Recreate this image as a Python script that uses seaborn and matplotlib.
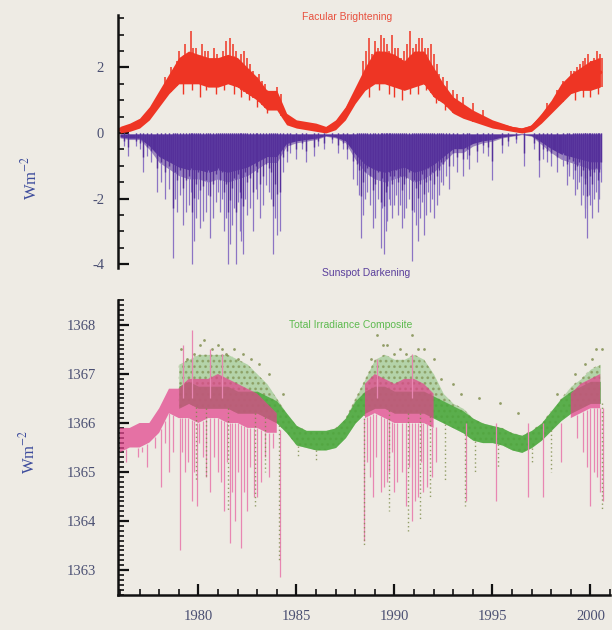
import matplotlib
matplotlib.use("Agg")
import numpy as np
import pandas as pd
import seaborn as sns
import matplotlib.pyplot as plt
from matplotlib.ticker import MultipleLocator

# ---------------------------------------------------------------- data
# half-year sampling grid shared by all banded series
grid_years = [1976.0, 1976.5, 1977.0, 1977.5, 1978.0, 1978.5, 1979.0, 1979.5,
              1980.0, 1980.5, 1981.0, 1981.5, 1982.0, 1982.5, 1983.0, 1983.5,
              1984.0, 1984.5, 1985.0, 1985.5, 1986.0, 1986.5, 1987.0, 1987.5,
              1988.0, 1988.5, 1989.0, 1989.5, 1990.0, 1990.5, 1991.0, 1991.5,
              1992.0, 1992.5, 1993.0, 1993.5, 1994.0, 1994.5, 1995.0, 1995.5,
              1996.0, 1996.5, 1997.0, 1997.5, 1998.0, 1998.5, 1999.0, 1999.5,
              2000.0, 2000.5]

# facular brightening: lower / upper edge of the dense daily band (W m-2)
fac_low = [0.0, 0.05, 0.15, 0.4, 0.8, 1.2, 1.5, 1.5, 1.5, 1.4, 1.4, 1.5, 1.4, 1.2,
           1.0, 0.7, 0.7, 0.25, 0.15, 0.1, 0.05, 0.0, 0.1, 0.4, 0.9, 1.3, 1.5, 1.5,
           1.4, 1.3, 1.4, 1.5, 1.1, 0.9, 0.6, 0.45, 0.35, 0.25, 0.15, 0.1, 0.05,
           0.0, 0.05, 0.3, 0.6, 0.9, 1.2, 1.3, 1.3, 1.4]
fac_high = [0.2, 0.3, 0.45, 0.8, 1.3, 1.8, 2.3, 2.5, 2.4, 2.3, 2.3, 2.4, 2.3, 2.0,
            1.7, 1.3, 1.3, 0.6, 0.4, 0.35, 0.3, 0.2, 0.4, 0.8, 1.4, 2.0, 2.5, 2.5,
            2.4, 2.2, 2.5, 2.5, 2.0, 1.5, 1.1, 0.9, 0.7, 0.55, 0.4, 0.3, 0.2, 0.15,
            0.25, 0.6, 1.0, 1.5, 1.8, 2.0, 2.2, 2.3]

# individual facular maxima
fac_peak_years = [1978.3, 1978.6, 1978.9, 1979.0, 1979.15, 1979.3, 1979.45, 1979.6,
                  1979.75, 1979.9, 1980.05, 1980.2, 1980.35, 1980.5, 1980.65, 1980.8,
                  1980.95, 1981.1, 1981.25, 1981.4, 1981.6, 1981.75, 1981.9, 1982.05,
                  1982.2, 1982.35, 1982.5, 1982.65, 1982.8, 1983.1, 1983.25, 1983.4,
                  1984.0, 1984.2, 1988.4, 1988.55, 1988.7, 1988.85, 1989.0, 1989.15,
                  1989.3, 1989.45, 1989.6, 1989.75, 1989.9, 1990.05, 1990.2, 1990.35,
                  1990.5, 1990.65, 1990.8, 1990.95, 1991.1, 1991.25, 1991.4, 1991.55,
                  1991.7, 1991.85, 1992.0, 1992.15, 1992.3, 1992.5, 1992.7, 1993.0,
                  1993.2, 1993.5, 1994.0, 1994.5, 1997.8, 1998.3, 1998.6, 1999.0,
                  1999.15, 1999.3, 1999.45, 1999.6, 1999.75, 1999.9, 2000.05, 2000.2,
                  2000.35, 2000.5, 2000.6]
fac_peak_values = [1.7, 2.0, 2.2, 2.5, 2.2, 2.7, 2.4, 3.1, 2.6, 2.6, 2.3, 2.7, 2.5,
                   2.5, 2.2, 2.6, 2.4, 2.3, 2.5, 2.8, 2.9, 2.7, 2.5, 2.2, 2.4, 2.5,
                   2.3, 2.1, 1.9, 1.8, 1.6, 1.5, 1.4, 1.2, 2.2, 2.5, 2.9, 2.4, 2.8,
                   2.6, 3.0, 2.9, 2.7, 2.5, 3.0, 2.6, 2.6, 2.3, 2.5, 2.7, 3.1, 2.6,
                   2.7, 2.9, 2.9, 2.6, 2.6, 2.7, 2.4, 2.1, 1.8, 1.7, 1.6, 1.3, 1.2,
                   1.1, 0.9, 0.7, 0.9, 1.3, 1.6, 1.9, 1.9, 2.0, 2.1, 2.2, 2.3, 2.4,
                   2.2, 2.3, 2.5, 2.4, 2.3]

# facular minima reaching below the dense band
fac_dip_years = [1979.2, 1979.7, 1980.1, 1980.4, 1980.9, 1981.3, 1981.8, 1982.2,
                 1982.6, 1983.0, 1983.5, 1988.7, 1989.2, 1989.7, 1990.0, 1990.4,
                 1990.8, 1991.2, 1991.6, 1992.1, 1992.6, 1999.2, 1999.6, 2000.0,
                 2000.4]
fac_dip_values = [1.2, 1.3, 1.1, 1.3, 1.2, 1.3, 1.2, 1.1, 1.0, 0.8, 0.6, 1.1, 1.3,
                  1.2, 1.1, 1.0, 1.2, 1.2, 1.3, 0.9, 0.7, 1.0, 1.1, 1.1, 1.2]

# sunspot darkening: depth of the dense daily band (W m-2)
spot_depth = [-0.15, -0.2, -0.2, -0.5, -0.9, -1.1, -1.3, -1.4, -1.4, -1.5, -1.4,
              -1.5, -1.4, -1.3, -1.1, -0.9, -0.9, -0.4, -0.3, -0.25, -0.2, -0.1,
              -0.15, -0.3, -0.8, -1.2, -1.4, -1.5, -1.4, -1.3, -1.5, -1.4, -1.2,
              -0.9, -0.6, -0.6, -0.4, -0.3, -0.25, -0.15, -0.1, -0.05, -0.1, -0.35,
              -0.6, -0.8, -0.9, -1.0, -1.1, -1.1]

# large sunspot passages
spot_spike_years = [1976.2, 1976.4, 1976.8, 1977.0, 1977.2, 1977.4, 1977.6, 1977.9,
                    1978.1, 1978.3, 1978.5, 1978.7, 1978.8, 1978.9, 1979.05, 1979.2,
                    1979.35, 1979.5, 1979.6, 1979.7, 1979.8, 1979.9, 1980.0, 1980.1,
                    1980.25, 1980.4, 1980.5, 1980.6, 1980.75, 1980.9, 1981.0, 1981.1,
                    1981.2, 1981.3, 1981.4, 1981.5, 1981.6, 1981.7, 1981.8, 1981.9,
                    1982.0, 1982.1, 1982.2, 1982.3, 1982.4, 1982.5, 1982.65, 1982.8,
                    1982.95, 1983.0, 1983.15, 1983.3, 1983.45, 1983.6, 1983.7, 1983.8,
                    1983.9, 1984.0, 1984.15, 1984.3, 1984.5, 1984.7, 1985.0, 1985.3,
                    1985.5, 1985.9, 1986.1, 1986.4, 1986.8, 1987.1, 1987.4, 1987.6,
                    1987.9, 1988.1, 1988.2, 1988.3, 1988.4, 1988.5, 1988.6, 1988.75,
                    1988.9, 1989.0, 1989.15, 1989.3, 1989.35, 1989.45, 1989.55, 1989.6,
                    1989.7, 1989.8, 1989.9, 1990.0, 1990.1, 1990.2, 1990.3, 1990.4,
                    1990.5, 1990.6, 1990.75, 1990.9, 1991.0, 1991.1, 1991.2, 1991.3,
                    1991.4, 1991.5, 1991.6, 1991.7, 1991.8, 1991.9, 1992.0, 1992.15,
                    1992.3, 1992.4, 1992.5, 1992.65, 1992.8, 1993.0, 1993.2, 1993.5,
                    1993.7, 1993.8, 1994.2, 1994.5, 1994.8, 1995.0, 1995.5, 1995.8,
                    1996.2, 1996.6, 1997.1, 1997.4, 1997.6, 1997.8, 1998.0, 1998.3,
                    1998.6, 1998.8, 1998.9, 1999.1, 1999.2, 1999.3, 1999.4, 1999.5,
                    1999.6, 1999.7, 1999.75, 1999.85, 1999.95, 2000.0, 2000.1, 2000.2,
                    2000.3, 2000.4, 2000.45, 2000.55]
spot_spike_values = [-0.4, -0.7, -0.4, -0.5, -1.2, -0.7, -0.9, -1.8, -1.5, -2.0,
                     -1.7, -3.8, -2.0, -2.4, -1.9, -2.8, -2.4, -2.2, -1.8, -4.0,
                     -3.3, -2.6, -2.0, -2.9, -2.7, -2.4, -1.9, -3.2, -2.6, -2.1,
                     -1.8, -2.4, -2.0, -3.0, -2.6, -4.0, -3.4, -2.8, -2.3, -4.0,
                     -2.1, -3.0, -3.3, -3.7, -2.0, -2.5, -2.3, -3.0, -1.7, -2.0,
                     -2.6, -2.2, -1.6, -1.8, -2.0, -3.7, -2.6, -3.1, -3.0, -1.2,
                     -0.9, -0.6, -0.8, -0.5, -0.9, -0.7, -0.4, -0.5, -0.3, -0.6,
                     -0.5, -0.8, -1.4, -1.6, -1.9, -3.2, -2.5, -2.0, -1.8, -2.2,
                     -2.9, -2.6, -2.0, -3.5, -2.3, -3.7, -3.0, -2.7, -2.0, -2.2,
                     -2.6, -2.2, -1.9, -2.5, -2.2, -2.9, -2.6, -2.3, -2.0, -3.9,
                     -2.4, -2.8, -3.3, -2.6, -2.1, -3.1, -2.5, -1.8, -2.4, -2.0,
                     -2.6, -2.2, -1.9, -1.5, -1.6, -1.3, -1.7, -1.0, -1.2, -1.3,
                     -0.8, -1.1, -0.9, -0.6, -0.7, -1.45, -0.6, -0.4, -0.3, -1.0,
                     -0.5, -1.35, -0.8, -0.9, -1.0, -1.2, -1.0, -1.6, -1.3, -1.4,
                     -1.9, -1.7, -1.5, -2.2, -1.9, -2.6, -2.3, -3.2, -1.9, -2.2,
                     -2.6, -2.0, -1.8, -2.4, -2.0, -1.5]

# total irradiance composite (W m-2), band edges; None = no data
N = None
tsi_low = [N, N, N, N, N, N, 1366.3, 1366.4, 1366.3, 1366.3, 1366.3, 1366.3,
           1366.2, 1366.2, 1366.2, 1366.1, 1366.0, 1365.8, 1365.55, 1365.5,
           1365.45, 1365.45, 1365.5, 1365.7, 1366.0, 1366.2, 1366.3, 1366.3,
           1366.2, 1366.2, 1366.2, 1366.2, 1366.1, 1366.0, 1365.9, 1365.8,
           1365.65, 1365.6, 1365.6, 1365.55, 1365.45, 1365.4, 1365.5, 1365.65,
           1365.85, 1366.05, 1366.2, 1366.3, 1366.4, 1366.4]
tsi_high = [N, N, N, N, N, N, 1367.2, 1367.3, 1367.4, 1367.4, 1367.4, 1367.4,
            1367.3, 1367.2, 1367.0, 1366.8, 1366.5, 1366.2, 1365.95, 1365.85,
            1365.85, 1365.85, 1365.9, 1366.1, 1366.5, 1366.9, 1367.3, 1367.4,
            1367.3, 1367.3, 1367.4, 1367.3, 1367.0, 1366.6, 1366.4, 1366.3,
            1366.1, 1366.0, 1365.95, 1365.9, 1365.8, 1365.75, 1365.85, 1366.0,
            1366.25, 1366.5, 1366.75, 1366.9, 1367.1, 1367.2]

# earlier record / active-sun daily values shown in pink
pink_low = [1365.4, 1365.5, 1365.5, 1365.6, 1365.8, 1366.2, 1366.1, 1366.1, 1366.0,
            1366.1, 1366.1, 1366.0, 1366.0, 1365.9, 1365.9, 1365.8, 1365.8, N, N, N,
            N, N, N, N, N, 1366.1, 1366.2, 1366.1, 1366.0, 1366.0, 1366.0, 1366.0,
            1365.9, N, N, N, N, N, N, N, N, N, N, N, N, N, 1366.1, 1366.2, 1366.3,
            1366.3]
pink_high = [1365.9, 1365.9, 1366.0, 1366.0, 1366.3, 1366.7, 1366.7, 1366.9, 1366.9,
             1366.9, 1367.0, 1366.9, 1366.8, 1366.7, 1366.6, 1366.4, 1366.2, N, N, N,
             N, N, N, N, N, 1366.8, 1367.0, 1366.9, 1366.8, 1366.9, 1366.9, 1366.8,
             1366.6, N, N, N, N, N, N, N, N, N, N, N, N, N, 1366.6, 1366.8, 1366.9,
             1367.0]

pink_spike_years = [1976.3, 1976.9, 1977.1, 1977.4, 1977.8, 1978.1, 1978.3, 1978.5,
                    1978.7, 1979.05, 1979.15, 1979.3, 1979.45, 1979.65, 1979.8,
                    1979.95, 1980.05, 1980.25, 1980.4, 1980.6, 1980.8, 1981.0, 1981.15,
                    1981.3, 1981.45, 1981.6, 1981.7, 1981.85, 1982.0, 1982.2, 1982.35,
                    1982.5, 1982.65, 1982.85, 1983.0, 1983.2, 1983.4, 1983.6, 1983.8,
                    1984.15, 1988.45, 1988.6, 1988.75, 1988.9, 1989.05, 1989.3,
                    1989.45, 1989.6, 1989.75, 1989.9, 1990.0, 1990.15, 1990.4, 1990.6,
                    1990.75, 1990.9, 1991.05, 1991.2, 1991.35, 1991.45, 1991.65,
                    1991.9, 1992.1, 1993.65, 1995.2, 1996.8, 1997.6, 1998.5, 1999.3,
                    1999.6, 1999.85, 2000.0, 2000.2, 2000.35, 2000.5, 2000.65]
pink_spike_values = [1365.2, 1365.3, 1365.4, 1365.1, 1365.5, 1364.7, 1365.6, 1365.0,
                     1365.4, 1363.4, 1365.4, 1365.0, 1365.2, 1364.4, 1365.0, 1364.3,
                     1365.6, 1365.3, 1364.9, 1364.6, 1365.3, 1365.0, 1364.8, 1364.2,
                     1365.2, 1363.55, 1364.6, 1364.0, 1365.0, 1363.45, 1364.6, 1364.2,
                     1365.1, 1364.5, 1364.5, 1364.8, 1365.3, 1364.9, 1365.5, 1362.85,
                     1363.6, 1365.2, 1364.9, 1364.5, 1365.3, 1364.6, 1364.7, 1364.8,
                     1365.0, 1365.4, 1364.6, 1364.8, 1365.0, 1364.3, 1365.1, 1364.0,
                     1364.4, 1364.5, 1365.2, 1364.6, 1364.7, 1364.9, 1365.2, 1364.4,
                     1364.4, 1364.5, 1364.5, 1365.2, 1365.7, 1365.4, 1365.1, 1364.3,
                     1365.0, 1364.9, 1364.6, 1364.4]
pink_up_years = [1979.2, 1979.65, 1980.6, 1981.2, 1989.1, 1990.9]
pink_up_values = [1367.6, 1367.9, 1367.5, 1367.4, 1367.3, 1367.4]

green_dot_years = [1979.1, 1979.4, 1979.8, 1980.1, 1980.3, 1980.7, 1981.0, 1981.2,
                   1981.4, 1981.8, 1982.0, 1982.3, 1982.7, 1983.1, 1983.6, 1984.3,
                   1988.8, 1989.1, 1989.4, 1989.6, 1990.0, 1990.3, 1990.6, 1990.9,
                   1991.2, 1991.5, 1992.0, 1992.4, 1993.0, 1993.4, 1994.3, 1995.4,
                   1996.3, 1998.3, 1999.2, 1999.7, 2000.1, 2000.3, 2000.6]
green_dot_values = [1367.5, 1367.3, 1367.4, 1367.6, 1367.7, 1367.5, 1367.6, 1367.5,
                    1367.4, 1367.5, 1367.3, 1367.4, 1367.3, 1367.2, 1367.0, 1366.6,
                    1367.3, 1367.8, 1367.6, 1367.6, 1367.4, 1367.5, 1367.4, 1367.8,
                    1367.5, 1367.5, 1367.3, 1366.9, 1366.8, 1366.6, 1366.5, 1366.4,
                    1366.2, 1366.6, 1367.0, 1367.2, 1367.3, 1367.5, 1367.5]
green_trail_years = [1979.9, 1980.4, 1981.5, 1982.9, 1983.4, 1984.1, 1985.1, 1986.0,
                     1988.45, 1989.7, 1990.7, 1991.3, 1991.8, 1992.6, 1993.6, 1994.1,
                     1995.3, 1997.0, 1998.0, 2000.6]
green_trail_values = [1364.8, 1364.9, 1364.2, 1364.3, 1365.0, 1363.2, 1365.3, 1365.2,
                      1363.5, 1364.2, 1363.8, 1364.0, 1364.5, 1364.8, 1364.3, 1365.0,
                      1365.1, 1365.2, 1365.0, 1364.2]

# ---------------------------------------------------------------- style
BG = "#eeebe4"
RED = "#ee3524"
PURPLE = "#55309a"
LAVENDER = "#8c74c4"
PINK = "#e2428c"
PINK_LIGHT = "#e886b2"
GREEN = "#4aa83c"
OLIVE = "#7b8a48"
TICK_TXT = "#4a4f72"
LABEL_BLUE = "#3d4c9c"

sns.set_theme(style="ticks")
plt.rcParams["font.family"] = ["Liberation Serif", "DejaVu Serif"]
plt.rcParams["mathtext.fontset"] = "stix"
plt.rcParams["hatch.linewidth"] = 1.2

fig = plt.figure(figsize=(6.12, 6.30), dpi=100, facecolor=BG)
W, H = 612, 630
ax_top = fig.add_axes([118 / W, 1 - 268 / H, 492 / W, 253 / H])
ax_bot = fig.add_axes([118 / W, 1 - 595 / H, 492 / W, 295 / H])

yrs = np.array(grid_years, dtype=float)


def arr(values):
    return np.array([np.nan if v is None else v for v in values], dtype=float)


def interp_band(x, values, fill):
    return np.interp(x, yrs, np.nan_to_num(arr(values), nan=fill))


# ---------------------------------------------------------------- top panel
spot = pd.DataFrame({"year": spot_spike_years, "value": spot_spike_values})
ax_top.fill_between(yrs, -0.03, arr(spot_depth) * 0.8, color=PURPLE, lw=0)
ax_top.fill_between(yrs, -0.03, arr(spot_depth), color=PURPLE, lw=0, alpha=0.55)
ax_top.vlines(spot["year"], 0, spot["value"], color=LAVENDER, lw=0.9)
ax_top.vlines(spot["year"], 0, spot["value"] * 0.6, color=PURPLE, lw=1.0)

fac = pd.DataFrame({"year": fac_peak_years, "value": fac_peak_values})
ax_top.fill_between(yrs, arr(fac_low), arr(fac_high), color=RED, lw=0)
sns.lineplot(x=yrs, y=(arr(fac_low) + arr(fac_high)) / 2, ax=ax_top, color=RED,
             lw=3)
ax_top.vlines(fac["year"], interp_band(fac["year"], fac_low, 0), fac["value"],
              color=RED, lw=1.1)
ax_top.vlines(fac_dip_years, interp_band(fac_dip_years, fac_high, 0),
              fac_dip_values, color=RED, lw=1.0)

ax_top.set_xlim(1975.9, 2001.0)
ax_top.set_ylim(-4.12, 3.6)
ax_top.yaxis.set_minor_locator(MultipleLocator(0.5))
ax_top.set_yticks([-4, -2, 0, 2])
ax_top.set_yticklabels(["-4", "-2", "0", "2"])
ax_top.set_xticks([])
for s in ("top", "right", "bottom"):
    ax_top.spines[s].set_visible(False)
ax_top.set_facecolor("none")

# ---------------------------------------------------------------- bottom panel
# sparse cloud of daily points over the whole band, dense core along its floor
t_lo, t_hi = arr(tsi_low), arr(tsi_high)
t_core = np.minimum(t_hi, t_lo + 0.45)
ax_bot.fill_between(yrs, t_lo, t_hi, color=GREEN, lw=0, alpha=0.35)
ax_bot.fill_between(yrs, t_lo, t_hi, facecolor="none", edgecolor=OLIVE,
                    hatch="...", lw=0, alpha=0.6)
ax_bot.fill_between(yrs, t_lo, t_core, color=GREEN, lw=0, alpha=0.85)

ax_bot.vlines(pink_spike_years, interp_band(pink_spike_years, pink_low, 1366.0),
              pink_spike_values, color=PINK_LIGHT, lw=0.9)
ax_bot.fill_between(yrs, arr(pink_low), arr(pink_high), color=PINK, lw=0, alpha=0.72)
ax_bot.vlines(pink_up_years, 1366.5, pink_up_values, color=PINK_LIGHT, lw=0.9)
green_base = interp_band(green_trail_years, tsi_low, 1366.2)
ax_bot.vlines(green_trail_years, green_base, green_trail_values, color=OLIVE,
              lw=1.0, linestyles=(0, (1, 2)), alpha=0.8)
sns.scatterplot(x=green_dot_years, y=green_dot_values, ax=ax_bot, color=OLIVE,
                s=4, linewidth=0, alpha=0.8)

ax_bot.set_xlim(1975.9, 2001.0)
ax_bot.set_ylim(1362.49, 1368.51)
ax_bot.xaxis.set_minor_locator(MultipleLocator(1))
ax_bot.yaxis.set_minor_locator(MultipleLocator(0.1))
ax_bot.set_xticks([1980, 1985, 1990, 1995, 2000])
ax_bot.set_yticks([1363, 1364, 1365, 1366, 1367, 1368])
for s in ("top", "right"):
    ax_bot.spines[s].set_visible(False)
ax_bot.set_facecolor("none")

for ax in (ax_top, ax_bot):
    ax.set_xlabel("")
    ax.set_ylabel("")
    for s in ax.spines.values():
        s.set_linewidth(1.8)
        s.set_color("#111111")
    ax.tick_params(which="major", direction="in", length=8, width=1.6,
                   color="#111111", labelsize=10.5, labelcolor=TICK_TXT)
    ax.tick_params(which="minor", direction="in", length=4, width=1.2,
                   color="#111111")
    ax.grid(False)

ax_top.tick_params(axis="y", which="major", pad=10)
ax_bot.tick_params(axis="y", which="major", pad=16)
ax_bot.tick_params(axis="x", which="major", pad=11)

# ---------------------------------------------------------------- labels
fig.text(30 / W, 1 - 178 / H, r"Wm$^{-2}$", rotation=90, ha="center", va="center",
         color=LABEL_BLUE, fontsize=12)
fig.text(28 / W, 1 - 452 / H, r"Wm$^{-2}$", rotation=90, ha="center", va="center",
         color=LABEL_BLUE, fontsize=12)

sans = ["Liberation Sans", "DejaVu Sans"]
fig.text(347 / W, 1 - 17 / H, "Facular Brightening", ha="center", va="center",
         color="#e8503e", fontsize=7.5, family=sans)
fig.text(366 / W, 1 - 273 / H, "Sunspot Darkening", ha="center", va="center",
         color="#5a3f9c", fontsize=7.5, family=sans)
fig.text(351 / W, 1 - 325 / H, "Total Irradiance Composite", ha="center",
         va="center", color="#5dba4f", fontsize=7.5, family=sans)

fig.savefig("out.png", dpi=100, facecolor=BG)
